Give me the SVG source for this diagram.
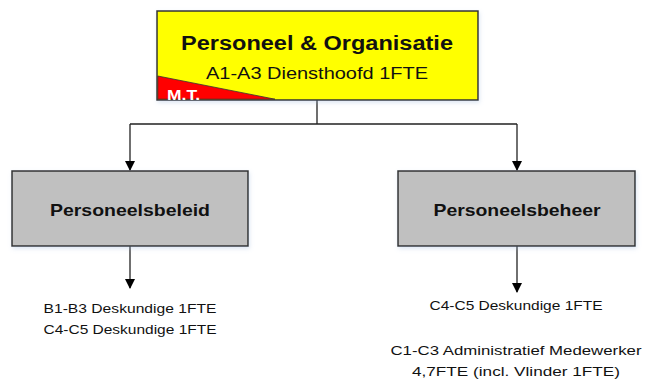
<svg xmlns="http://www.w3.org/2000/svg" width="646" height="381" viewBox="0 0 646 381">
<defs>
<marker id="arr" markerWidth="10" markerHeight="10" refX="9" refY="5" orient="auto" markerUnits="userSpaceOnUse" viewBox="0 0 10 10">
<path d="M0,0 L10,5 L0,10 Z" fill="#000"/>
</marker>
<filter id="sh" x="-10%" y="-10%" width="125%" height="130%">
<feGaussianBlur in="SourceAlpha" stdDeviation="2"/>
<feOffset dx="1" dy="2" result="b"/>
<feFlood flood-color="#9db8dd" flood-opacity="0.35"/>
<feComposite in2="b" operator="in"/>
<feMerge><feMergeNode/><feMergeNode in="SourceGraphic"/></feMerge>
</filter>
</defs>
<style>
.box{stroke:#333;stroke-width:1.5}
.t{font-family:"Liberation Sans",Arial,sans-serif;fill:#111;text-anchor:middle}
.b{font-weight:bold}
.c{fill:none;stroke:#222;stroke-width:1.3}
</style>
<rect width="646" height="381" fill="#fff"/>
<g id="connectors">
<path class="c" d="M317,100 V124 M130,124 H517"/>
<path class="c" d="M130,124 V170" marker-end="url(#arr)"/>
<path class="c" d="M517,124 V170" marker-end="url(#arr)"/>
<path class="c" d="M130,246 V288" marker-end="url(#arr)"/>
<path class="c" d="M517,246 V292" marker-end="url(#arr)"/>
</g>
<g id="node-po">
<rect class="box" x="157" y="11" width="321" height="89" fill="#ffff00" filter="url(#sh)"/>
<path d="M157.8,76 L157.8,99.2 L275,99.2 Z" fill="#ff0000" stroke="#333" stroke-width="0.8"/>
<text class="t b" x="317" y="50" font-size="20" textLength="272" lengthAdjust="spacingAndGlyphs">Personeel &amp; Organisatie</text>
<text class="t" x="317" y="79" font-size="16" textLength="222" lengthAdjust="spacingAndGlyphs">A1-A3 Diensthoofd 1FTE</text>
<text x="167" y="99.5" font-family="'Liberation Sans',Arial,sans-serif" font-weight="bold" font-size="14" fill="#fff" textLength="33" lengthAdjust="spacingAndGlyphs">M.T.</text>
</g>
<g id="node-beleid">
<rect class="box" x="12" y="171" width="236" height="75" fill="#c0c0c0" filter="url(#sh)"/>
<text class="t b" x="130" y="216" font-size="17" textLength="160" lengthAdjust="spacingAndGlyphs">Personeelsbeleid</text>
</g>
<g id="node-beheer">
<rect class="box" x="398" y="171" width="237" height="75" fill="#c0c0c0" filter="url(#sh)"/>
<text class="t b" x="517" y="216" font-size="17" textLength="167" lengthAdjust="spacingAndGlyphs">Personeelsbeheer</text>
</g>
<g id="text-beleid">
<text class="t" x="130" y="313" font-size="13.5" textLength="173" lengthAdjust="spacingAndGlyphs">B1-B3 Deskundige 1FTE</text>
<text class="t" x="130" y="334" font-size="13.5" textLength="173" lengthAdjust="spacingAndGlyphs">C4-C5 Deskundige 1FTE</text>
</g>
<g id="text-beheer">
<text class="t" x="516" y="310" font-size="13.5" textLength="173" lengthAdjust="spacingAndGlyphs">C4-C5 Deskundige 1FTE</text>
<text class="t" x="516" y="355" font-size="13.5" textLength="251" lengthAdjust="spacingAndGlyphs">C1-C3 Administratief Medewerker</text>
<text class="t" x="516" y="376" font-size="13.5" textLength="208" lengthAdjust="spacingAndGlyphs">4,7FTE (incl. Vlinder 1FTE)</text>
</g>
</svg>
